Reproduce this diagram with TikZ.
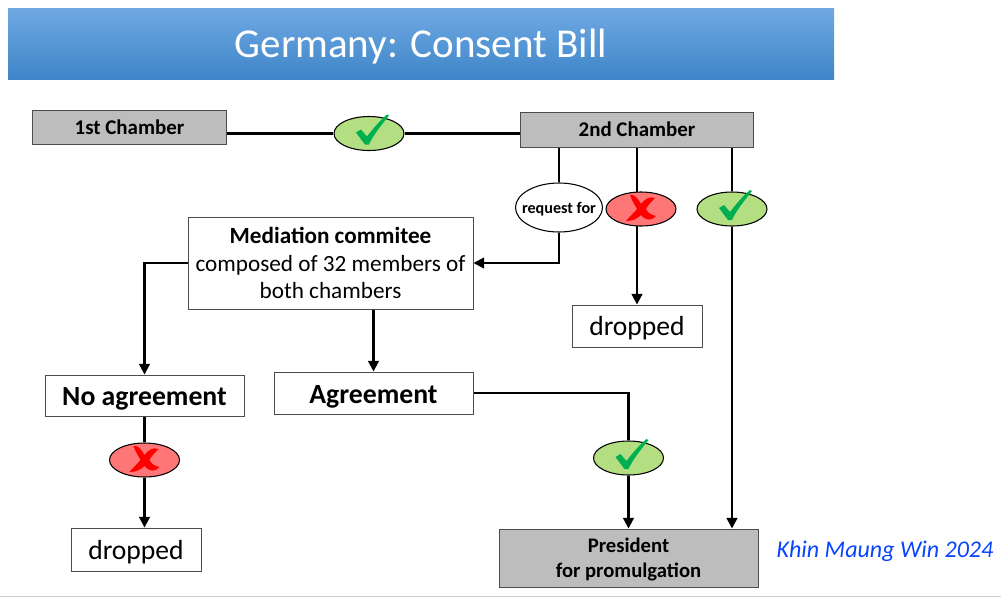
\documentclass[tikz,border=0pt]{standalone}
\usepackage{fontspec}
\setmainfont{Carlito}
\usetikzlibrary{arrows.meta,shapes.geometric,backgrounds}
\definecolor{boxgrey}{HTML}{BDBDBD}
\definecolor{okfill}{HTML}{B3DE82}
\definecolor{okmark}{HTML}{00B050}
\definecolor{nofill}{HTML}{FF7676}
\definecolor{titletop}{HTML}{6FA9E3}
\definecolor{titlebot}{HTML}{3F85C8}
\definecolor{signblue}{HTML}{0A44FF}
\tikzset{
  box/.style={rectangle,draw=black!70,line width=0.7pt,inner sep=0pt,align=center,text depth=0pt},
  greybox/.style={box,fill=boxgrey},
  vote/.style={ellipse,draw=black,line width=0.8pt,inner sep=0pt,minimum width=52.5pt,minimum height=25.5pt},
  okvote/.style={vote,fill=okfill},
  novote/.style={vote,fill=nofill},
  link/.style={line width=1.6pt},
  arrow/.style={link,-{Triangle[length=8pt,width=8pt]}},
  okpic/.pic={\fill[okmark] (-13,-1) -- (-8,-4) -- (-2,3) .. controls (4,-5) and (11,-13) .. (18,-19) -- (20,-18)
    .. controls (12,-8) and (4,2) .. (0,11) -- (-4,11) -- cycle;},
  nopic/.pic={\fill[red] (-11,-14) .. controls (-6,-15) and (-3,-10) .. (0,-5)
    .. controls (4,-10) and (8,-13) .. (14,-11) .. controls (10,-7) and (7,-4) .. (5,0)
    .. controls (7,4) and (10,6) .. (15,7) .. controls (11,12) and (5,12) .. (0,6)
    .. controls (-4,10) and (-9,12) .. (-15,12) .. controls (-11,7) and (-7,4) .. (-4,0)
    .. controls (-6,-4) and (-9,-8) .. (-11,-14) -- cycle;}
}
\begin{document}
\begin{tikzpicture}[x=0.75pt,y=-0.75pt]
\useasboundingbox (0,0) rectangle (1001,597);
\draw[black!20,line width=0.8pt] (0,596.5) -- (1001,596.5);
% title band
\node[rectangle,inner sep=0pt,text depth=0pt,minimum width=619.5pt,minimum height=53.25pt,top color=titletop,bottom color=titlebot,
  text=white,font=\fontsize{30.8pt}{34pt}\selectfont] (title) at (421,43.5) {Germany: Consent Bill};
% chambers
\node[greybox,minimum width=146pt,minimum height=25.5pt,font=\fontsize{15.7pt}{18pt}\selectfont\bfseries] (first) at (129.5,127) {1st Chamber};
\node[greybox,minimum width=175pt,minimum height=26.25pt,font=\fontsize{15.7pt}{18pt}\selectfont\bfseries] (second) at (637,129.5) {2nd Chamber};
% votes
\node[okvote] (okA) at (369,133.5) {};
\node[vote,fill=white,text depth=0pt,minimum width=65.25pt,minimum height=36.75pt,font=\fontsize{12.1pt}{14pt}\selectfont\bfseries] (request) at (559,207.5) {\makebox[0pt]{request for}};
\node[novote] (noA) at (641,209) {};
\node[okvote] (okB) at (732,209) {};
\node[novote] (noB) at (144.5,460) {};
\node[okvote] (okC) at (628.5,458) {};
% boxes
\node[box,minimum width=213.75pt,minimum height=69pt,font=\fontsize{17.4pt}{20.6pt}\selectfont] (mediation) at (330.5,263)
  {\textbf{Mediation commitee}\\composed of 32 members of\\both chambers};
\node[box,text height=15.5pt,minimum width=149.25pt,minimum height=30.75pt,font=\fontsize{20.8pt}{24pt}\selectfont\bfseries] (noagree) at (144.5,395.5) {No agreement};
\node[box,text height=16pt,minimum width=149.25pt,minimum height=31.5pt,font=\fontsize{20.8pt}{24pt}\selectfont\bfseries] (agree) at (373.5,393) {Agreement};
\node[box,minimum width=97.5pt,minimum height=31.5pt,font=\fontsize{20.7pt}{24pt}\selectfont] (dropA) at (637,326) {dropped};
\node[box,minimum width=97.5pt,minimum height=32.25pt,font=\fontsize{20.7pt}{24pt}\selectfont] (dropB) at (136,549.5) {dropped};
\node[greybox,minimum width=194.25pt,minimum height=43.5pt,font=\fontsize{15.5pt}{18.75pt}\selectfont\bfseries] (president) at (628.5,558)
  {President\\for promulgation};
\node[text=signblue,inner sep=0pt,font=\fontsize{18pt}{21pt}\selectfont\itshape] (sign) at (885,551.5) {Khin Maung Win 2024};
% connectors
\begin{scope}[on background layer]
\draw[link] (first.east |- okA) -- (okA);
\draw[link] (okA) -- (second.west |- okA);
\draw[link] (second.south -| request) -- (request);
\draw[arrow] (request) |- (mediation.east);
\draw[arrow] (second.south -| dropA) -- (dropA.north);
\draw[link] (second.south -| okB) -- (okB);
\draw[arrow] (okB) -- (president.north -| okB);
\draw[arrow] (mediation.west) -| (noagree.north);
\draw[arrow] (mediation.south -| agree) -- (agree.north);
\draw[link] (noagree) -- (noB);
\draw[arrow] (noB) -- (dropB.north -| noB);
\draw[link] (agree.east) -| (okC);
\draw[arrow] (okC) -- (president.north);
\end{scope}
% marks
\pic at (okA) {okpic};
\pic at (okB) {okpic};
\pic at (okC) {okpic};
\pic at (noA) {nopic};
\pic at (noB) {nopic};
\end{tikzpicture}
\end{document}
